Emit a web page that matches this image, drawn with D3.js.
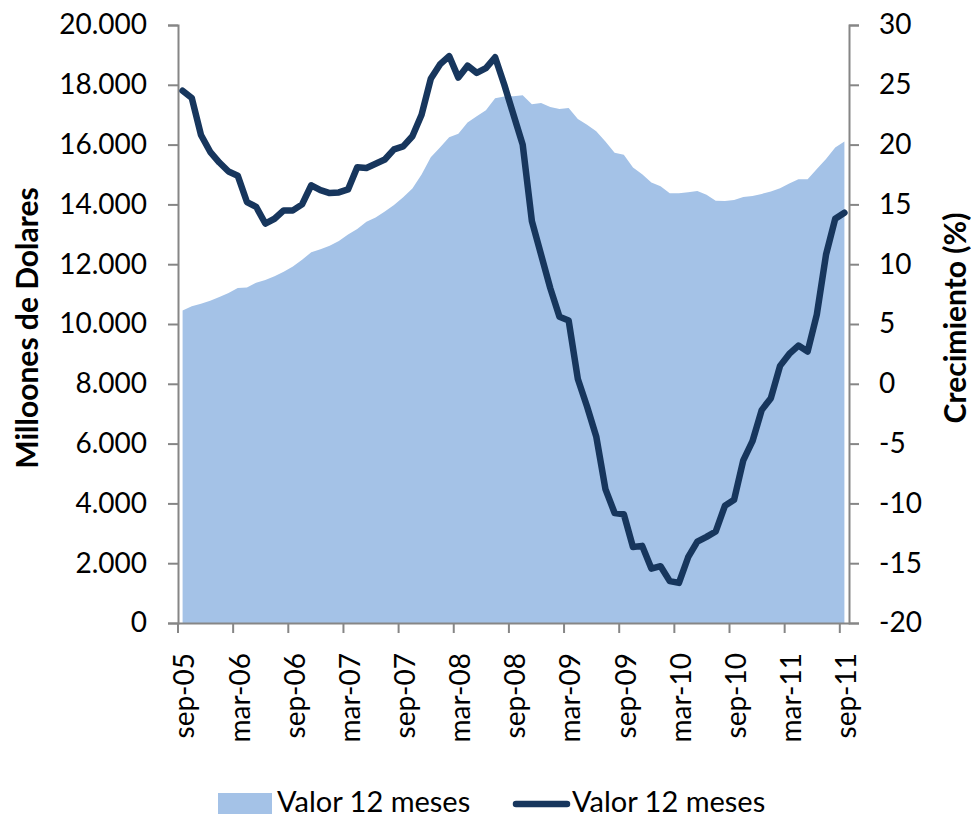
<!DOCTYPE html>
<html>
<head>
<meta charset="utf-8">
<script src="https://cdn.jsdelivr.net/npm/d3@7"></script>
<style>
  body { margin: 0; background: #fff; }
  svg { display: block; font-family: Lato, "Open Sans", sans-serif; }
</style>
</head>
<body>
<div id="chart"></div>
<script>
// ----- DATA -----
// monthly categories sep-05 .. sep-11 (73 months)
const monthNames = ["ene", "feb", "mar", "abr", "may", "jun", "jul", "ago", "sep", "oct", "nov", "dic"];
const months = [];
for (let i = 0; i < 73; i++) {
  const m = (8 + i) % 12;
  const yr = 5 + Math.floor((8 + i) / 12);
  months.push(monthNames[m] + "-" + String(yr).padStart(2, "0"));
}

// tick labels shown on the x axis
const tickLabels = ["sep-05", "mar-06", "sep-06", "mar-07", "sep-07", "mar-08", "sep-08",
  "mar-09", "sep-09", "mar-10", "sep-10", "mar-11", "sep-11"];

// Valor 12 meses (millones de dolares) - area, left axis
const valor = [
  10450, 10590, 10680, 10780, 10900, 11040, 11200, 11220, 11380, 11470,
  11600, 11750, 11920, 12150, 12400, 12500, 12620, 12780, 12990, 13180,
  13420, 13560, 13760, 13980, 14240, 14530, 15000, 15580, 15900, 16250,
  16360, 16740, 16950, 17150, 17550, 17610, 17620, 17650, 17350, 17390,
  17260, 17190, 17220, 16860, 16660, 16450, 16100, 15730, 15660, 15230,
  15010, 14730, 14610, 14370, 14370, 14410, 14450, 14320, 14120, 14110,
  14150, 14250, 14280, 14350, 14430, 14540, 14700, 14840, 14840, 15180,
  15520, 15900, 16100
];

// Crecimiento (%) - line, right axis
const crecimiento = [
  24.5, 23.9, 20.8, 19.4, 18.5, 17.75, 17.4, 15.2, 14.8, 13.4,
  13.8, 14.5, 14.5, 15.0, 16.6, 16.2, 15.95, 16.0, 16.25, 18.1,
  18.05, 18.4, 18.75, 19.6, 19.85, 20.7, 22.5, 25.5, 26.7, 27.4,
  25.6, 26.6, 26.0, 26.4, 27.3, 25.0, 22.5, 20.0, 13.6, 10.8,
  8.0, 5.6, 5.3, 0.4, -1.9, -4.4, -8.8, -10.8, -10.9, -13.65,
  -13.55, -15.45, -15.25, -16.5, -16.65, -14.5, -13.2, -12.8, -12.35, -10.2,
  -9.7, -6.4, -4.8, -2.2, -1.2, 1.5, 2.5, 3.2, 2.7, 5.8,
  10.8, 13.8, 14.3
];

const leftTicks = [0, 2000, 4000, 6000, 8000, 10000, 12000, 14000, 16000, 18000, 20000];
const rightTicks = [-20, -15, -10, -5, 0, 5, 10, 15, 20, 25, 30];

// ----- SETUP -----
const width = 971, height = 819;
const margins = { top: 25, right: 122, bottom: 196, left: 178 };
const axisColor = "#868686";
const areaColor = "#a4c2e7";
const lineColor = "#17365d";
const fontFamily = "Lato, 'Open Sans', sans-serif";

const svg = d3.select("#chart")
  .append("svg")
  .attr("width", width)
  .attr("height", height);

const x = d3.scaleBand()
  .domain(months)
  .range([margins.left, width - margins.right])
  .padding(0);

const yL = d3.scaleLinear()
  .domain([0, 20000])
  .range([height - margins.bottom, margins.top]);

const yR = d3.scaleLinear()
  .domain([-20, 30])
  .range([height - margins.bottom, margins.top]);

const cx = d => x(d) + x.bandwidth() / 2;

// thousands separated by "." like the original
const fmt = d3.formatLocale({ decimal: ",", thousands: ".", grouping: [3], currency: ["", ""] }).format(",");

// ----- AREA -----
const area = d3.area()
  .x((d, i) => cx(months[i]))
  .y0(yL(0))
  .y1(d => yL(d));

svg.append("path")
  .datum(valor)
  .attr("d", area)
  .attr("fill", areaColor);

// ----- AXES -----
const yAxisL = svg.append("g")
  .attr("transform", `translate(${margins.left},0)`)
  .call(d3.axisLeft(yL).tickValues(leftTicks).tickFormat(fmt).tickSize(10).tickPadding(21));

// plain hyphen for negatives, as in the original
const yAxisR = svg.append("g")
  .attr("transform", `translate(${width - margins.right},0)`)
  .call(d3.axisRight(yR).tickValues(rightTicks).tickFormat(d => String(d)).tickSize(10).tickPadding(20));

[yAxisL, yAxisR].forEach(g => {
  g.select(".domain").attr("stroke", axisColor).attr("stroke-width", 2);
  g.selectAll(".tick line").attr("stroke", axisColor).attr("stroke-width", 2);
  g.selectAll(".tick text")
    .attr("fill", "#000")
    .style("font-size", "28px")
    .style("font-family", fontFamily);
});

// x axis: labels every 6 months centred on the month, ticks on the month boundaries
const xAxis = svg.append("g")
  .attr("transform", `translate(0,${height - margins.bottom})`)
  .call(d3.axisBottom(x).tickValues(tickLabels).tickSize(0).tickPadding(0));

xAxis.select(".domain").attr("stroke", axisColor).attr("stroke-width", 2);

xAxis.selectAll(".tick text")
  .attr("fill", "#000")
  .style("font-size", "28px")
  .style("font-family", fontFamily)
  .attr("text-anchor", "end")
  .attr("transform", "translate(2,30) rotate(-90)")
  .attr("x", 0)
  .attr("y", 0)
  .attr("dy", "0.35em");

svg.append("g")
  .selectAll("line")
  .data(tickLabels)
  .join("line")
    .attr("x1", d => x(d))
    .attr("x2", d => x(d))
    .attr("y1", height - margins.bottom)
    .attr("y2", height - margins.bottom + 10)
    .attr("stroke", axisColor)
    .attr("stroke-width", 2);

// ----- LINE -----
const line = d3.line()
  .x((d, i) => cx(months[i]))
  .y(d => yR(d));

svg.append("path")
  .datum(crecimiento)
  .attr("d", line)
  .attr("fill", "none")
  .attr("stroke", lineColor)
  .attr("stroke-width", 6.5)
  .attr("stroke-linejoin", "round")
  .attr("stroke-linecap", "round");

// ----- AXIS TITLES -----
svg.append("text")
  .attr("transform", "translate(27,328) rotate(-90)")
  .attr("text-anchor", "middle")
  .attr("dy", "0.35em")
  .style("font-size", "30px")
  .style("font-weight", "bold")
  .text("Milloones de Dolares");

svg.append("text")
  .attr("transform", "translate(955,318) rotate(-90)")
  .attr("text-anchor", "middle")
  .attr("dy", "0.35em")
  .style("font-size", "30px")
  .style("font-weight", "bold")
  .text("Crecimiento (%)");

// ----- LEGEND -----
const legend = svg.append("g").attr("transform", "translate(0,802)");

legend.append("rect")
  .attr("x", 218).attr("y", -9)
  .attr("width", 54).attr("height", 21)
  .attr("fill", areaColor);

legend.append("text")
  .attr("x", 277).attr("y", 0).attr("dy", "0.35em")
  .style("font-size", "29px")
  .text("Valor 12 meses");

legend.append("line")
  .attr("x1", 516).attr("x2", 567)
  .attr("y1", 2).attr("y2", 2)
  .attr("stroke", lineColor)
  .attr("stroke-width", 6.5)
  .attr("stroke-linecap", "round");

legend.append("text")
  .attr("x", 572).attr("y", 0).attr("dy", "0.35em")
  .style("font-size", "29px")
  .text("Valor 12 meses");
</script>
</body>
</html>
